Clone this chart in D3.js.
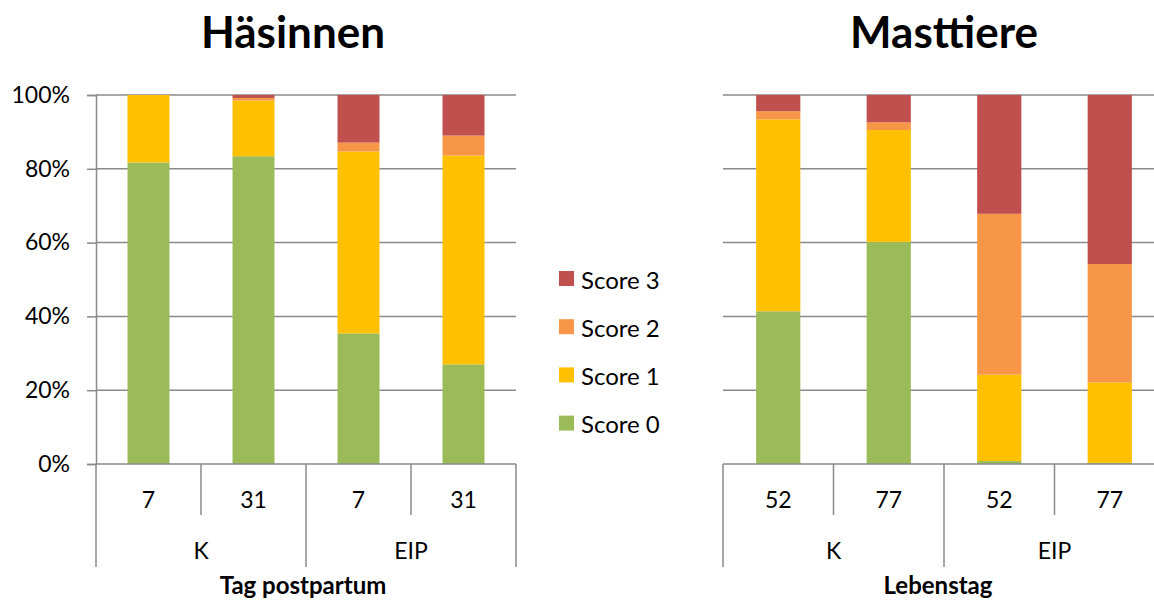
<!DOCTYPE html>
<html>
<head>
<meta charset="utf-8">
<script src="https://cdn.jsdelivr.net/npm/d3@7"></script>
<style>
  html, body { margin: 0; padding: 0; background: #fff; }
  svg { display: block; font-family: Lato, "Open Sans", sans-serif; }
</style>
</head>
<body>
<svg id="chart" width="1154" height="602"></svg>
<script>
// Score distribution (%) per group and day
const scoreKeys = ["Score 0", "Score 1", "Score 2", "Score 3"];
const scoreColors = ["#9BBB59", "#FFC000", "#F79646", "#C0504D"];

// Häsinnen — Tag postpartum
const sowDays   = ["7", "31", "7", "31"];
const sowGroups = ["K", "K", "EIP", "EIP"];
const sowScore0 = [81.7, 83.4, 35.4, 27.0];
const sowScore1 = [18.3, 15.1, 49.3, 56.6];
const sowScore2 = [0.0, 0.7, 2.4, 5.4];
const sowScore3 = [0.0, 0.8, 12.9, 11.0];

// Masttiere — Lebenstag
const finDays   = ["52", "77", "52", "77"];
const finGroups = ["K", "K", "EIP", "EIP"];
const finScore0 = [41.4, 60.2, 0.8, 0.3];
const finScore1 = [52.0, 30.3, 23.4, 21.8];
const finScore2 = [2.2, 2.1, 43.6, 32.1];
const finScore3 = [4.4, 7.4, 32.2, 45.8];

const yTicks = [0, 20, 40, 60, 80, 100];

const svg = d3.select("#chart");
const axisColor = "#8a8a8a";
const labelSize = 23;
const y = d3.scaleLinear().domain([0, 100]).range([464, 95]);

function drawPanel(opt) {
  const g = svg.append("g");
  const idx = d3.range(opt.days.length);
  const rows = idx.map(i => ({
    i,
    "Score 0": opt.series[0][i],
    "Score 1": opt.series[1][i],
    "Score 2": opt.series[2][i],
    "Score 3": opt.series[3][i]
  }));

  // category slots and bars inside them
  const slot = d3.scaleBand().domain(idx).range([opt.left, opt.right]);
  const x = d3.scaleBand().domain(idx).range([opt.left, opt.right])
    .paddingInner(0.6).paddingOuter(0.3);

  // gridlines
  g.append("g").selectAll("line").data(yTicks.filter(t => t > 0)).join("line")
    .attr("x1", opt.left).attr("x2", opt.right)
    .attr("y1", d => y(d)).attr("y2", d => y(d))
    .attr("stroke", axisColor).attr("stroke-width", 1.5);

  // stacked bars
  const stacked = d3.stack().keys(scoreKeys)(rows);
  g.append("g").selectAll("g").data(stacked).join("g")
    .attr("fill", (d, k) => scoreColors[k])
    .selectAll("rect").data(d => d).join("rect")
    .attr("x", d => x(d.data.i))
    .attr("width", x.bandwidth())
    .attr("y", d => y(d[1]))
    .attr("height", d => y(d[0]) - y(d[1]));

  // value axis
  if (opt.showYAxis) {
    const ax = g.append("g").attr("transform", `translate(${opt.left},0)`)
      .call(d3.axisLeft(y).tickValues(yTicks).tickFormat(d => d + "%")
        .tickSize(9).tickPadding(17));
    ax.select(".domain").attr("stroke", axisColor).attr("stroke-width", 1.5);
    ax.selectAll(".tick line").attr("stroke", axisColor).attr("stroke-width", 1.5);
    ax.selectAll(".tick text").attr("font-size", labelSize).attr("fill", "#000")
      .attr("font-family", "Lato, sans-serif");
  }

  // category axis baseline
  g.append("line")
    .attr("x1", opt.left).attr("x2", opt.right)
    .attr("y1", y(0)).attr("y2", y(0))
    .attr("stroke", axisColor).attr("stroke-width", 1.5);

  // dividers: group boundaries run down to the group row, day boundaries to the day row
  const bounds = idx.map(i => slot(i)).concat([opt.right]);
  g.append("g").selectAll("line").data(bounds).join("line")
    .attr("x1", d => d).attr("x2", d => d)
    .attr("y1", y(0))
    .attr("y2", (d, k) => (k === 0 || k === bounds.length - 1 || opt.groups[k] !== opt.groups[k - 1]) ? 567 : 515)
    .attr("stroke", axisColor).attr("stroke-width", 1.5);

  // day labels
  g.append("g").selectAll("text").data(idx).join("text")
    .attr("x", i => slot(i) + slot.bandwidth() / 2)
    .attr("y", 499)
    .attr("text-anchor", "middle").attr("dominant-baseline", "central")
    .attr("font-size", labelSize)
    .text(i => opt.days[i]);

  // group labels
  const groupNames = Array.from(new Set(opt.groups));
  g.append("g").selectAll("text").data(groupNames).join("text")
    .attr("x", name => {
      const members = idx.filter(i => opt.groups[i] === name);
      return (slot(members[0]) + slot(members[members.length - 1]) + slot.bandwidth()) / 2;
    })
    .attr("y", 550)
    .attr("text-anchor", "middle").attr("dominant-baseline", "central")
    .attr("font-size", labelSize)
    .text(d => d);

  // axis title
  g.append("text")
    .attr("x", opt.xTitleX).attr("y", 594)
    .attr("text-anchor", "middle")
    .attr("font-size", 24).attr("font-weight", "bold")
    .text(opt.xTitle);

  // chart title
  g.append("text")
    .attr("x", opt.titleX).attr("y", 48)
    .attr("text-anchor", "middle")
    .attr("font-size", 44).attr("font-weight", "bold")
    .text(opt.title);
}

drawPanel({
  left: 96, right: 516,
  days: sowDays, groups: sowGroups,
  series: [sowScore0, sowScore1, sowScore2, sowScore3],
  title: "Häsinnen", titleX: 293,
  xTitle: "Tag postpartum", xTitleX: 303,
  showYAxis: true
});

drawPanel({
  left: 723, right: 1165,
  days: finDays, groups: finGroups,
  series: [finScore0, finScore1, finScore2, finScore3],
  title: "Masttiere", titleX: 944,
  xTitle: "Lebenstag", xTitleX: 938,
  showYAxis: false
});

// legend (Score 3 on top)
const legendOrder = [3, 2, 1, 0];
const legend = svg.append("g").selectAll("g").data(legendOrder).join("g")
  .attr("transform", (d, k) => `translate(559, ${271 + k * 48.2})`);
legend.append("rect")
  .attr("width", 15).attr("height", 15)
  .attr("fill", d => scoreColors[d]);
legend.append("text")
  .attr("x", 22).attr("y", 8)
  .attr("dominant-baseline", "central")
  .attr("font-size", 24)
  .text(d => scoreKeys[d]);
</script>
</body>
</html>
